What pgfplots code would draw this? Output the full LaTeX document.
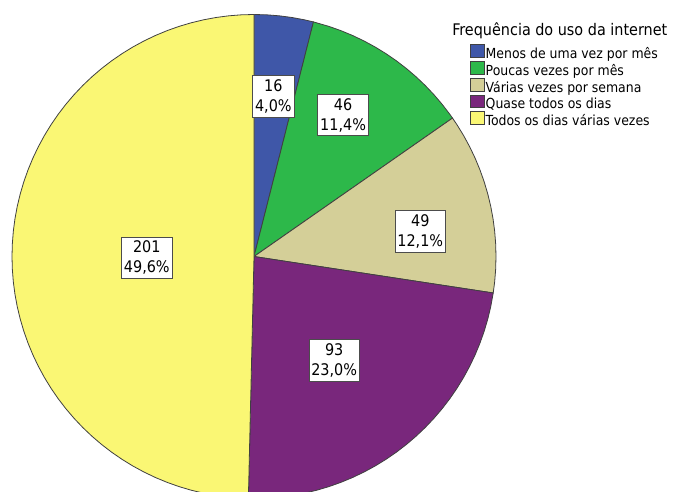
\documentclass[border=0pt]{standalone}
\usepackage{pgfplots}
\pgfplotsset{compat=1.18}
\usepgfplotslibrary{polar}
\usepackage{fontspec}
\setmainfont{DejaVu Sans Condensed}
\definecolor{cBlue}{HTML}{3F57A8}
\definecolor{cGreen}{HTML}{2DB84A}
\definecolor{cTan}{HTML}{D4CF98}
\definecolor{cPurple}{HTML}{79277C}
\definecolor{cYellow}{HTML}{FAF774}
\tikzset{lbl/.style={draw=black!70, fill=white, align=center, inner xsep=1.8pt, inner ysep=3pt,
    font=\fontsize{12}{15}\selectfont, line width=0.6pt}}
% counts: 16, 46, 49, 93, 201 (total 405); slices run clockwise from 90 deg
\begin{document}
\begin{tikzpicture}
\useasboundingbox (0,0) rectangle (510.75pt,369pt);
\clip (0,0) rectangle (510.75pt,369pt);
\begin{polaraxis}[
  at={(190.5pt,176.625pt)}, anchor=center,
  width=363pt, height=363pt, scale only axis,
  hide axis, clip=false,
  xmin=0, xmax=360, ymin=0, ymax=1,
  every axis plot/.append style={draw=black!75, line width=0.6pt},
  legend image code/.code={\draw[#1] (0pt,-1.9pt) rectangle (10.5pt,7.7pt);},
  legend style={at={(0.946,0.939)}, anchor=north west, draw=none, fill=none,
    inner sep=0pt, outer sep=0pt, row sep=-0.9pt,
    font=\fontsize{10.4}{12}\selectfont, cells={anchor=west},
    nodes={inner sep=0.8pt, text height=7.5pt, text depth=2pt}},
]
% Menos de uma vez por mes: 16
\addplot[fill=cBlue] coordinates {(0,0) (90,1) (87,1) (84,1) (81,1) (78,1) (75.778,1)} -- cycle;
\addlegendentry{Menos de uma vez por mês}
% Poucas vezes por mes: 46
\addplot[fill=cGreen] coordinates {(0,0) (75.778,1) (72,1) (69,1) (66,1) (63,1) (60,1) (57,1) (54,1) (51,1) (48,1) (45,1) (42,1) (39,1) (36,1) (34.889,1)} -- cycle;
\addlegendentry{Poucas vezes por mês}
% Varias vezes por semana: 49
\addplot[fill=cTan] coordinates {(0,0) (34.889,1) (33,1) (30,1) (27,1) (24,1) (21,1) (18,1) (15,1) (12,1) (9,1) (6,1) (3,1) (0,1) (-3,1) (-6,1) (-8.667,1)} -- cycle;
\addlegendentry{Várias vezes por semana}
% Quase todos os dias: 93
\addplot[fill=cPurple] coordinates {(0,0) (-8.667,1) (-12,1) (-15,1) (-18,1) (-21,1) (-24,1) (-27,1) (-30,1) (-33,1) (-36,1) (-39,1) (-42,1) (-45,1) (-48,1) (-51,1) (-54,1) (-57,1) (-60,1) (-63,1) (-66,1) (-69,1) (-72,1) (-75,1) (-78,1) (-81,1) (-84,1) (-87,1) (-90,1) (-91.333,1)} -- cycle;
\addlegendentry{Quase todos os dias}
% Todos os dias varias vezes: 201
\addplot[fill=cYellow] coordinates {(0,0) (-91.333,1) (-93,1) (-96,1) (-99,1) (-102,1) (-105,1) (-108,1) (-111,1) (-114,1) (-117,1) (-120,1) (-123,1) (-126,1) (-129,1) (-132,1) (-135,1) (-138,1) (-141,1) (-144,1) (-147,1) (-150,1) (-153,1) (-156,1) (-159,1) (-162,1) (-165,1) (-168,1) (-171,1) (-174,1) (-177,1) (-180,1) (-183,1) (-186,1) (-189,1) (-192,1) (-195,1) (-198,1) (-201,1) (-204,1) (-207,1) (-210,1) (-213,1) (-216,1) (-219,1) (-222,1) (-225,1) (-228,1) (-231,1) (-234,1) (-237,1) (-240,1) (-243,1) (-246,1) (-249,1) (-252,1) (-255,1) (-258,1) (-261,1) (-264,1) (-267,1) (-270,1)} -- cycle;
\addlegendentry{Todos os dias várias vezes}
\node[lbl] at (axis cs:83.1,0.665) {16\\4,0\%};
\node[lbl] at (axis cs:57.8,0.691) {46\\11,4\%};
\node[lbl] at (axis cs:8.65,0.695) {49\\12,1\%};
\node[lbl] at (axis cs:-52.4,0.543) {93\\23,0\%};
\node[lbl] at (axis cs:180.7,0.443) {201\\49,6\%};
\end{polaraxis}
\node[anchor=base west, inner sep=0pt, font=\fontsize{12}{14}\selectfont] at (339pt,342pt) {Frequência do uso da internet};
\end{tikzpicture}
\end{document}
